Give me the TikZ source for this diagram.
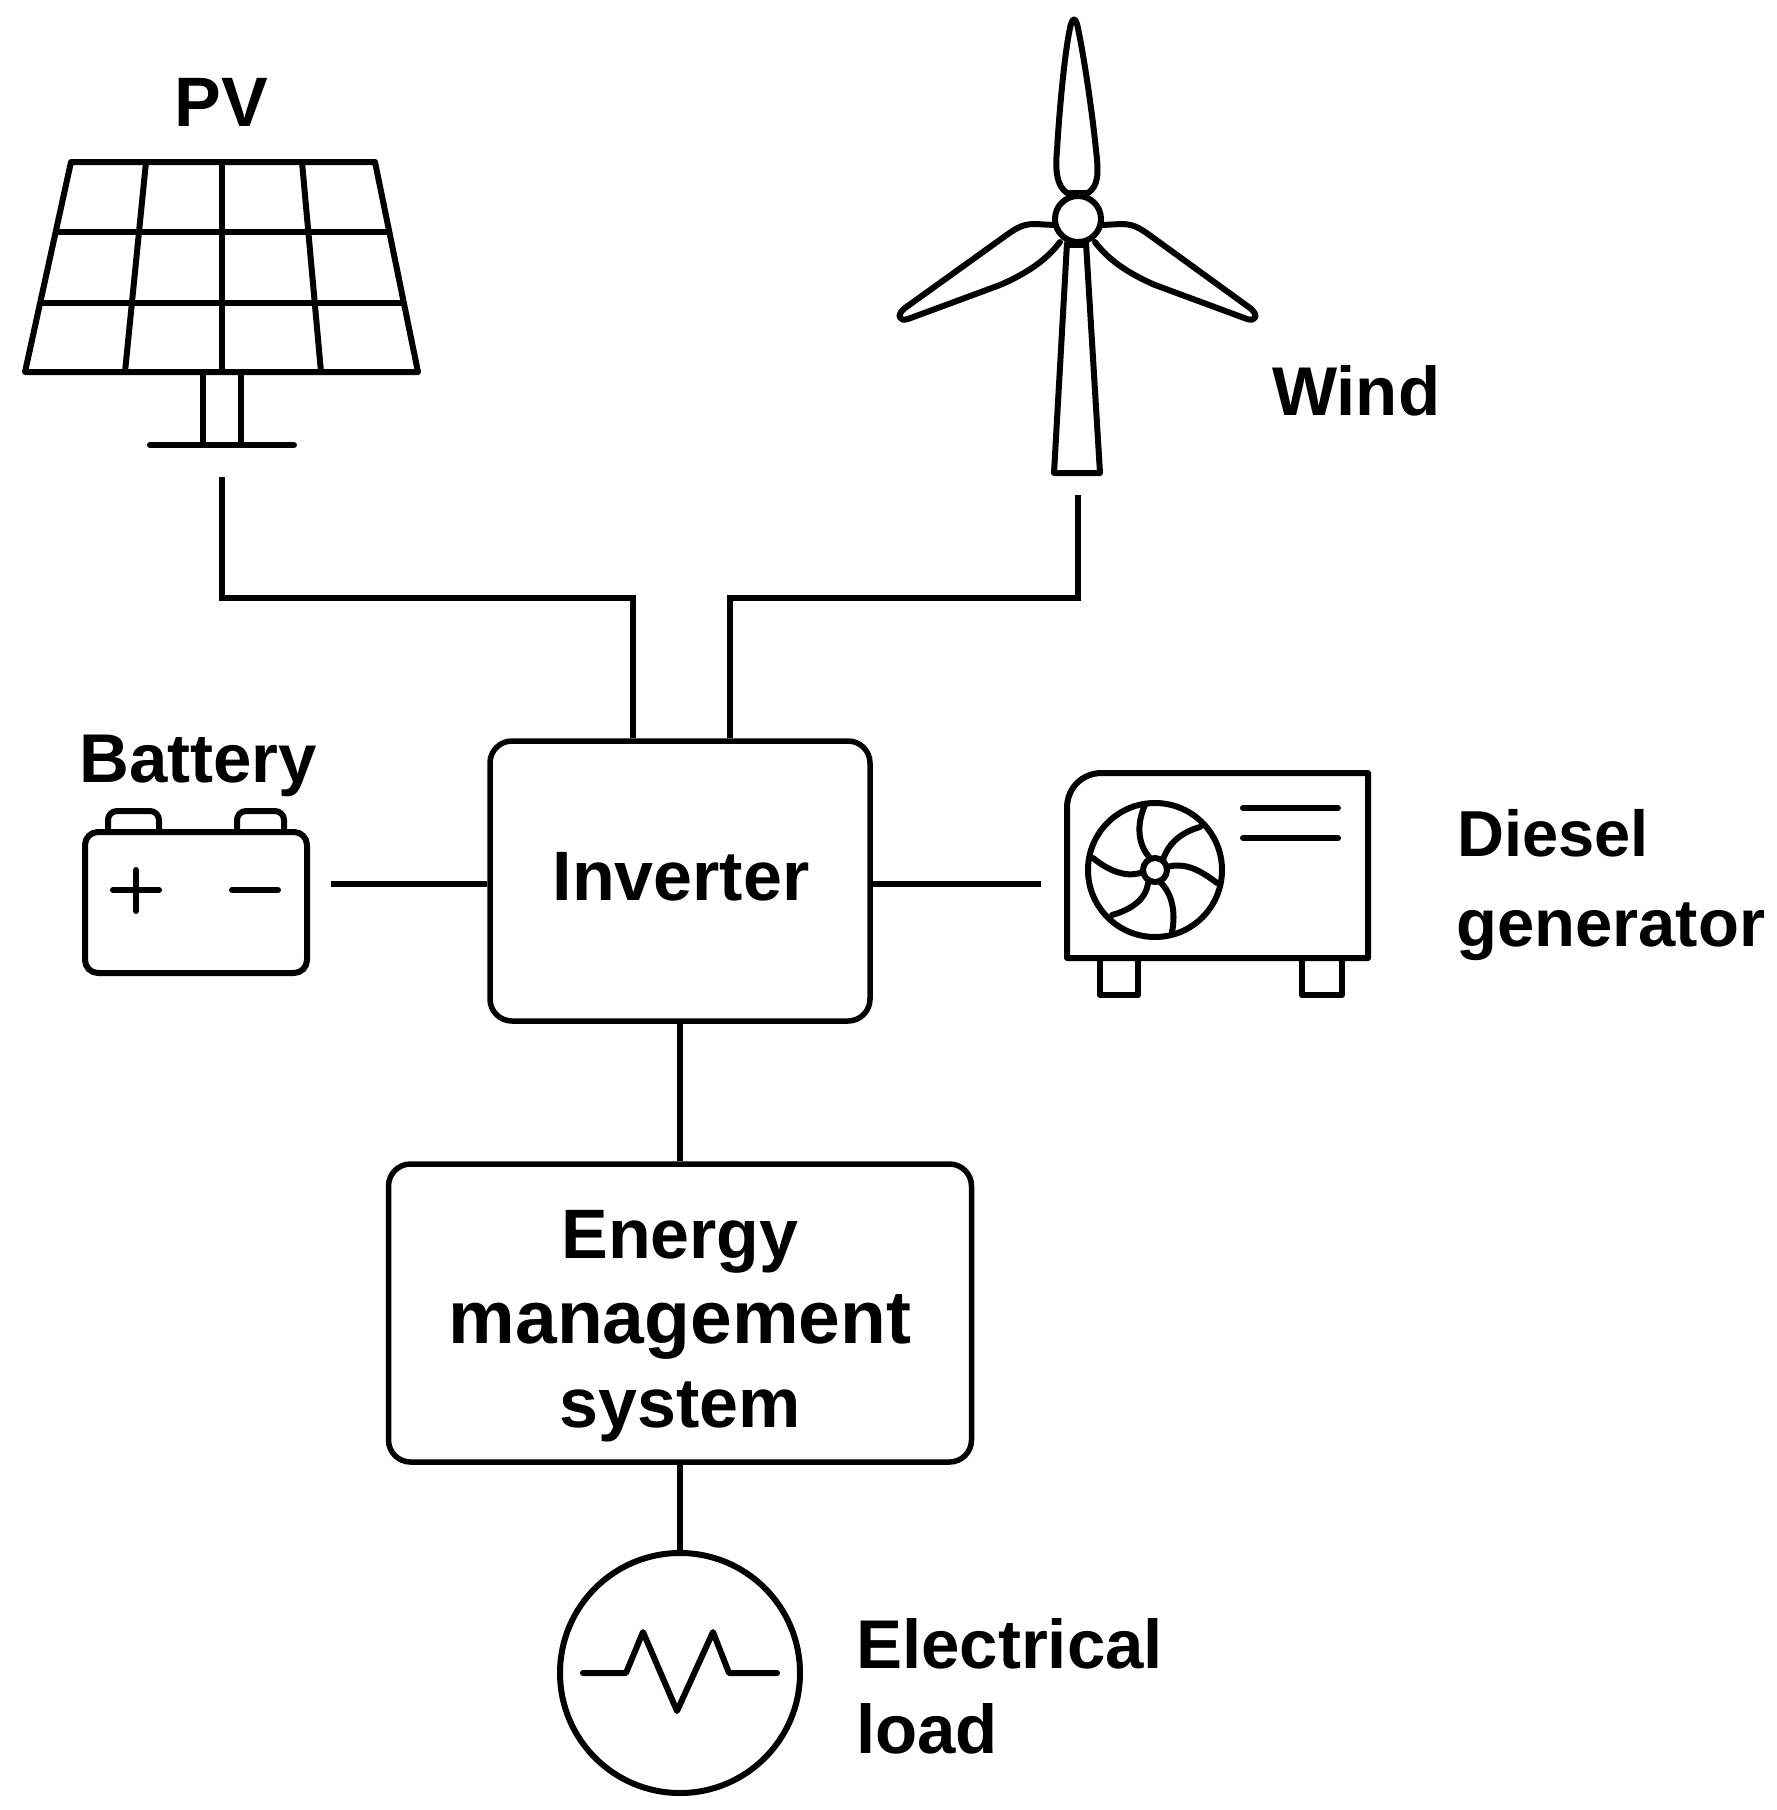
\documentclass[tikz,border=0pt]{standalone}
\usepackage{fontspec}
\setmainfont{Liberation Sans}
\begin{document}
\begin{tikzpicture}[x=1pt,y=-1pt,
  icon/.style={line width=6pt,line join=round,line cap=round},
  wire/.style={line width=5.5pt,line join=miter},
  box/.style={draw,line width=5.5pt,rounded corners=22pt,inner sep=0pt},
  lab/.style={font=\bfseries\fontsize{69}{69}\selectfont,inner sep=0pt}]
\useasboundingbox (0,0) rectangle (1777,1810);
% PV panel
\begin{scope}[icon]
\draw (71,162) -- (375,162) -- (418,372) -- (25,372) -- cycle;
\draw (56,232) -- (389,232);
\draw (41,303) -- (403,303);
\draw (146,162) -- (125,372);
\draw (222,162) -- (222,372);
\draw (302,162) -- (321,372);
\draw (203,372) -- (203,445);
\draw (241,372) -- (241,445);
\draw (150,445) -- (294,445);
\end{scope}
\node[lab,font=\bfseries\fontsize{70}{70}\selectfont,anchor=base] (pvlabel) at (221,126) {PV};
% Wind turbine
\begin{scope}[icon]
\draw (1067,193) .. controls (1057,186) and (1055,172) .. (1057,150) .. controls (1060,100) and (1066,42) .. (1071,24) .. controls (1073,18) and (1075,18) .. (1077,24) .. controls (1083,50) and (1092,110) .. (1096,150) .. controls (1099,175) and (1098,186) .. (1088,193) -- cycle;
\draw (1054,225) -- (1035,224) .. controls (1024,224) and (1018,227) .. (1008,234) -- (905,308) .. controls (896,315) and (899,322) .. (908,319) -- (1000,285) .. controls (1030,272) and (1048,258) .. (1060,242);
\draw (1102,225) -- (1121,224) .. controls (1132,224) and (1138,227) .. (1148,234) -- (1250,308) .. controls (1259,315) and (1256,322) .. (1247,319) -- (1155,285) .. controls (1125,272) and (1107,258) .. (1095,242);
\draw (1067,243) -- (1054,473) -- (1100,473) -- (1086,243);
\draw (1067,245) -- (1086,245);
\node[draw,circle,line width=6pt,minimum size=46pt,inner sep=0pt] (hub) at (1078,219) {};
\end{scope}
\node[lab,anchor=base west] (windlabel) at (1272,415) {Wind};
% Inverter and EMS
\node[box,minimum width=380pt,minimum height=280pt] (inv) at (680,881) {};
\node[lab,font=\bfseries\fontsize{70}{70}\selectfont,anchor=base] (invlabel) at (681,900) {Inverter};
\node[box,minimum width=583pt,minimum height=298pt] (ems) at (680,1313) {};
\node[lab,font=\bfseries\fontsize{70}{70}\selectfont,anchor=base] (emsA) at (680,1258) {Energy};
\node[lab,font=\bfseries\fontsize{75}{75}\selectfont,anchor=base] (emsB) at (680,1343) {management};
\node[lab,font=\bfseries\fontsize{70}{70}\selectfont,anchor=base] (emsC) at (680,1427) {system};
% Battery
\begin{scope}[icon]
\draw[rounded corners=13pt] (85,832) rectangle (307,973);
\draw[rounded corners=9pt] (108,832) -- (108,811) -- (159,811) -- (159,832);
\draw[rounded corners=9pt] (237,832) -- (237,811) -- (284,811) -- (284,832);
\draw (113,890) -- (159,890);
\draw (136,870) -- (136,911);
\draw (232,890) -- (278,890);
\end{scope}
\node[lab,anchor=base west] (batlabel) at (79,782) {Battery};
% Generator
\begin{scope}[icon]
\draw (1067,958) -- (1067,808) .. controls (1067,788) and (1082,773) .. (1102,773) -- (1368,773) -- (1368,958) -- cycle;
\draw (1243,808) -- (1338,808);
\draw (1243,838) -- (1338,838);
\draw (1100,958) -- (1100,995) -- (1138,995) -- (1138,958);
\draw (1302,958) -- (1302,995) -- (1342,995) -- (1342,958);
\node[draw,circle,line width=6pt,minimum size=134pt,inner sep=0pt] (fan) at (1155,870) {};
\node[draw,circle,line width=6pt,minimum size=24pt,inner sep=0pt] (fanhub) at (1155,870) {};
\draw (1145,805) .. controls (1136,825) and (1138,845) .. (1150,858);
\draw (1200,827) .. controls (1182,832) and (1168,843) .. (1163,860);
\draw (1217,883) .. controls (1200,870) and (1185,862) .. (1167,867);
\draw (1172,932) .. controls (1176,912) and (1172,893) .. (1160,882);
\draw (1112,915) .. controls (1130,910) and (1146,900) .. (1148,883);
\draw (1093,858) .. controls (1110,872) and (1128,878) .. (1143,872);
\end{scope}
\node[lab,font=\bfseries\fontsize{65}{65}\selectfont,anchor=base west] (dieselA) at (1457,856) {Diesel};
\node[lab,font=\bfseries\fontsize{67}{67}\selectfont,anchor=base west] (dieselB) at (1456,946) {generator};
% Load
\node[draw,circle,line width=6pt,minimum size=240pt,inner sep=0pt] (load) at (680,1673) {};
\draw[icon] (583,1673) -- (626,1673) -- (643,1632) -- (677,1711) -- (713,1632) -- (729,1673) -- (777,1673);
\node[lab,anchor=base west] (elecA) at (856,1668) {Electrical};
\node[lab,anchor=base west] (elecB) at (856,1753) {load};
% Connectors
\coordinate (pvend) at (222,477);
\coordinate (windend) at (1078,495);
\coordinate (batend) at (331,884);
\coordinate (genend) at (1041,884);
\path (inv.north) ++(-47,0) coordinate (invA);
\path (inv.north) ++(50,0) coordinate (invB);
\coordinate (pvbend) at (222,598);
\coordinate (windbend) at (1078,598);
\draw[wire] (pvend) -- (pvbend) -| (invA);
\draw[wire] (windend) -- (windbend) -| (invB);
\draw[wire] (batend) -- (batend -| inv.west);
\draw[wire] (genend) -- (genend -| inv.east);
\draw[wire] (inv.south) -- (ems.north);
\draw[wire] (ems.south) -- (load.north);
\end{tikzpicture}
\end{document}
